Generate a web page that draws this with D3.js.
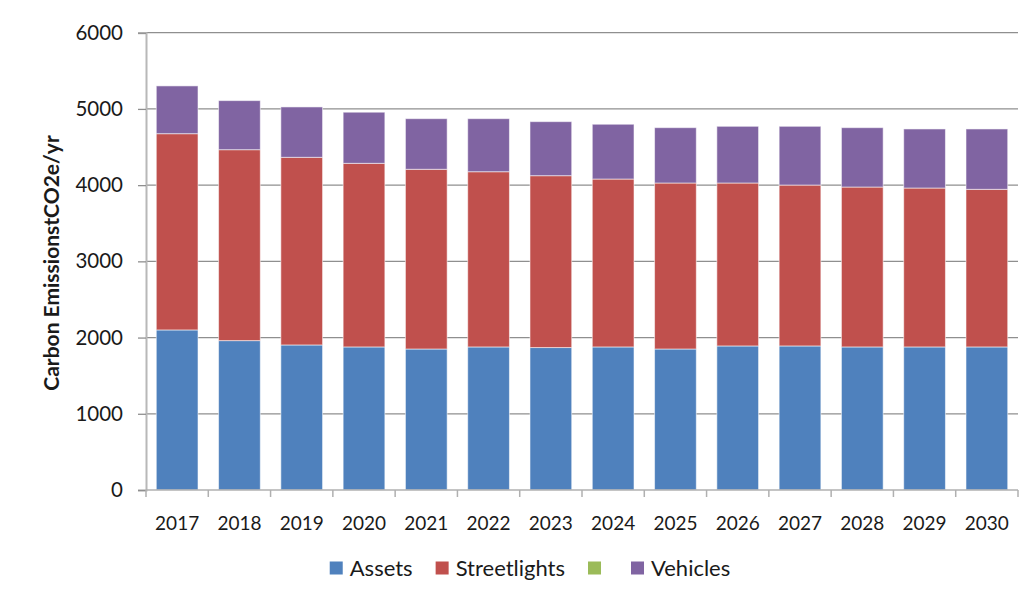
<!DOCTYPE html>
<html>
<head>
<meta charset="utf-8">
<script src="https://cdn.jsdelivr.net/npm/d3@7"></script>
<style>
  html, body { margin: 0; padding: 0; background: #fff; }
  svg { display: block; }
  text { font-family: Lato, "Open Sans", sans-serif; fill: #1a1a1a; }
</style>
</head>
<body>
<svg id="chart" width="1029" height="599"></svg>
<script>
// Annual carbon emissions by source (tCO2e/yr)
const years = ["2017","2018","2019","2020","2021","2022","2023","2024","2025","2026","2027","2028","2029","2030"];
const assets       = [2100,1960,1903,1877,1850,1877,1869,1877,1850,1890,1890,1877,1877,1877];
const streetlights = [2575,2505,2462,2409,2358,2299,2255,2203,2178,2138,2111,2098,2085,2068];
const unnamed      = [0,0,0,0,0,0,0,0,0,0,0,0,0,0];
const vehicles     = [627,644,661,671,664,696,709,719,726,744,771,779,775,792];
const seriesNames  = ["Assets","Streetlights","","Vehicles"];
const seriesColors = ["#4F81BD","#C0504D","#9BBB59","#8064A2"];
const yTicks = [0,1000,2000,3000,4000,5000,6000];

const seriesValues = [assets, streetlights, unnamed, vehicles];
const keys = seriesNames.map((n, i) => "s" + i);
const rows = years.map((y, j) => {
  const r = { year: y };
  keys.forEach((k, i) => r[k] = seriesValues[i][j]);
  return r;
});
const stacked = d3.stack().keys(keys)(rows);

const svg = d3.select("#chart");
const margin = { left: 146, right: 1018, top: 32.7, bottom: 490 };

const x = d3.scaleBand().domain(years).range([margin.left, margin.right]).paddingInner(0.33).paddingOuter(0.165);
const y = d3.scaleLinear().domain([0, 6000]).range([margin.bottom, margin.top]);

// horizontal gridlines
svg.append("g")
  .selectAll("line")
  .data(yTicks.filter(t => t > 0))
  .join("line")
  .attr("x1", margin.left).attr("x2", margin.right)
  .attr("y1", d => y(d)).attr("y2", d => y(d))
  .attr("stroke", "#8f8f8f").attr("stroke-width", 1.3);

// stacked bars
svg.append("g")
  .selectAll("g")
  .data(stacked)
  .join("g")
  .attr("fill", (d, i) => seriesColors[i])
  .selectAll("rect")
  .data(d => d.filter(p => p[1] - p[0] > 0))
  .join("rect")
  .attr("x", d => x(d.data.year))
  .attr("width", x.bandwidth())
  .attr("y", d => y(d[1]))
  .attr("height", d => y(d[0]) - y(d[1]))
  .attr("stroke", "rgba(255,255,255,0.55)")
  .attr("stroke-width", 1);

// y axis
const yAxis = svg.append("g")
  .attr("transform", `translate(${margin.left},0)`)
  .call(d3.axisLeft(y).tickValues(yTicks).tickSize(8).tickPadding(15).tickFormat(d3.format("d")));
yAxis.select(".domain").attr("stroke", "#b8b8b8").attr("stroke-width", 2);
yAxis.selectAll(".tick line").attr("stroke", "#8f8f8f").attr("stroke-width", 1.3);
yAxis.selectAll(".tick text").attr("font-size", 20.5).attr("font-family", "Lato, sans-serif").attr("fill", "#1a1a1a");

// x axis with tick marks between categories
const xAxis = svg.append("g")
  .attr("transform", `translate(0,${margin.bottom})`);
xAxis.append("line")
  .attr("x1", margin.left).attr("x2", margin.right)
  .attr("stroke", "#b0b0b0").attr("stroke-width", 1.5);
const step = x.step();
xAxis.selectAll("line.sep")
  .data(d3.range(years.length + 1))
  .join("line")
  .attr("class", "sep")
  .attr("x1", i => margin.left + i * step).attr("x2", i => margin.left + i * step)
  .attr("y1", 0).attr("y2", 7)
  .attr("stroke", "#b0b0b0").attr("stroke-width", 1.5);
xAxis.selectAll("text")
  .data(years)
  .join("text")
  .attr("x", d => x(d) + x.bandwidth() / 2)
  .attr("y", 40)
  .attr("text-anchor", "middle")
  .attr("font-size", 19)
  .text(d => d);

// y axis title
svg.append("text")
  .attr("transform", "translate(59,263) rotate(-90)")
  .attr("text-anchor", "middle")
  .attr("font-size", 21)
  .attr("font-weight", "bold")
  .text("Carbon EmissionstCO2e/yr");

// legend
const legend = svg.append("g").attr("transform", "translate(0,568)");
let cursor = 0;
const items = [];
seriesNames.forEach((name, i) => {
  const g = legend.append("g");
  g.append("rect").attr("x", 0).attr("y", -6.5).attr("width", 13).attr("height", 13).attr("fill", seriesColors[i]);
  const t = g.append("text").attr("x", 20).attr("y", 7.5).attr("font-size", 22).text(name);
  const w = name ? t.node().getComputedTextLength() : 0;
  items.push({ g, x: cursor });
  cursor += 20 + w + 23;
});
const total = cursor - 23;
const start = 530 - total / 2;
items.forEach(it => it.g.attr("transform", `translate(${start + it.x},0)`));
</script>
</body>
</html>
